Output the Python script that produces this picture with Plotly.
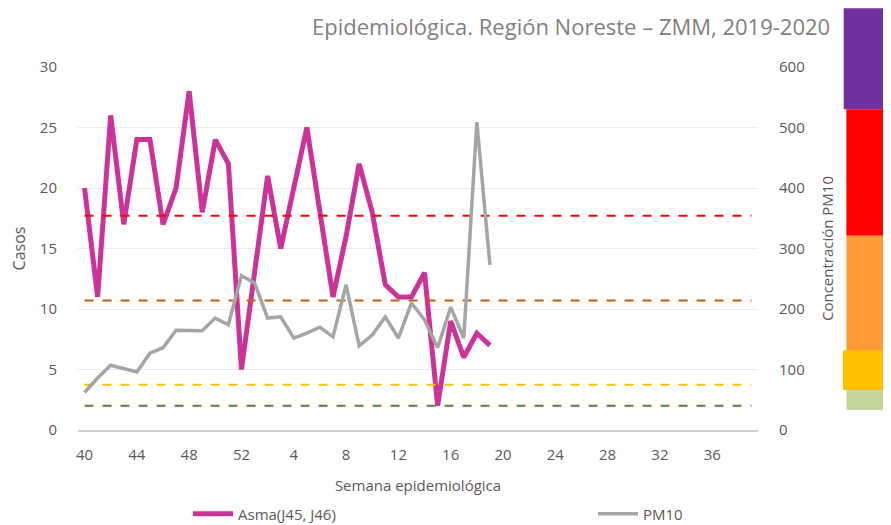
import plotly.graph_objects as go

# Weeks: 40-52 (2019), 1-39 (2020)
weeks = [str(w) for w in range(40, 53)] + [str(w) for w in range(1, 40)]
tick_labels = ["40", "44", "48", "52", "4", "8", "12", "16", "20", "24", "28", "32", "36"]

asma_weeks = [str(w) for w in range(40, 53)] + [str(w) for w in range(1, 20)]
asma = [20, 11, 26, 17, 24, 24, 17, 20, 28, 18, 24, 22, 5,
        13, 21, 15, 20, 25, 18, 11, 16, 22, 18, 12, 11, 11, 13, 2, 9, 6, 8, 7]
pm10 = [62, 86, 107, 102, 96, 127, 136, 165, 165, 164, 185, 174, 255,
        243, 185, 187, 152, 160, 170, 154, 240, 139, 157, 187, 152, 210, 182, 136, 203, 152, 509, 273]

# PM10 thresholds (µg/m3) drawn as dashed reference lines
thresholds = [354, 214, 75, 40]
threshold_colors = ["#FF0000", "#C55A11", "#FFC000", "#548235"]

# Side colour scale bands (µg/m3 limits)
band_low = [530, 321, 122, 66, 33]
band_high = [697, 530, 321, 132, 66]
band_colors = ["#7030A0", "#FF0000", "#FD9A35", "#FFC000", "#C4D79B"]
band_x0 = [1.126, 1.130, 1.130, 1.125, 1.130]

Y2MAX = 600
OFF = 8  # page body margin
W, H = 891 - OFF, 525 - OFF
L, T = 78 - OFF, 67 - OFF
PW, PH = 680, 363
R, B = W - L - PW, H - T - PH

fig = go.Figure()

for thr, col in zip(thresholds, threshold_colors):
    fig.add_trace(go.Scatter(x=[weeks[0], weeks[-1]], y=[thr, thr], yaxis="y2",
                             mode="lines", line=dict(color=col, width=2, dash="dash"),
                             showlegend=False, hoverinfo="skip"))

fig.add_trace(go.Scatter(x=asma_weeks, y=asma, name="Asma(J45, J46)", mode="lines",
                         line=dict(color="#CC3399", width=5), legend="legend"))
fig.add_trace(go.Scatter(x=asma_weeks, y=pm10, name="PM10", yaxis="y2", mode="lines",
                         line=dict(color="#A5A5A5", width=3.5), legend="legend2"))

shapes = []
for lo, hi, col, x0 in zip(band_low, band_high, band_colors, band_x0):
    shapes.append(dict(type="rect", xref="paper", yref="paper", x0=x0, x1=1.2,
                       y0=lo / Y2MAX, y1=hi / Y2MAX, fillcolor=col, line=dict(width=0),
                       layer="above"))

font = dict(family="Open Sans, sans-serif", size=15, color="#595959")
leg_common = dict(orientation="h", yanchor="middle", xanchor="left",
                  font=dict(size=15, color="#595959"), itemwidth=40,
                  bgcolor="rgba(0,0,0,0)")
leg_y = -(514 - OFF - T - PH) / PH

fig.update_layout(
    width=W, height=H,
    margin=dict(l=L, r=R, t=T, b=B, autoexpand=False),
    paper_bgcolor="white", plot_bgcolor="white",
    font=font,
    shapes=shapes,
    xaxis=dict(type="category", categoryorder="array", categoryarray=weeks,
               range=[-0.5, len(weeks) - 0.5], automargin=False,
               tickmode="array", tickvals=tick_labels, ticktext=tick_labels,
               showgrid=False, showline=True, linecolor="#D0D0D0", linewidth=2,
               ticks="", ticklabelstandoff=10, tickfont=dict(size=15, color="#595959"),
               title=dict(text="Semana epidemiológica", font=dict(size=15, color="#595959"), standoff=17)),
    yaxis=dict(range=[0, 30], dtick=5, showgrid=True, gridcolor="#EBEBEB", gridwidth=1,
               zeroline=False, ticks="", ticklabelstandoff=20, automargin=False,
               title=dict(text="Casos", font=dict(size=16, color="#595959"), standoff=10)),
    yaxis2=dict(range=[0, Y2MAX], dtick=100, overlaying="y", side="right", showgrid=False,
                zeroline=False, ticks="", ticklabelstandoff=20, automargin=False,
                title=dict(text="Concentración PM10", font=dict(size=15, color="#595959"), standoff=18)),
    legend=dict(x=(188 - OFF - L) / PW, y=leg_y, **leg_common),
    legend2=dict(x=(593 - OFF - L) / PW, y=leg_y, **leg_common),
    annotations=[dict(text="Epidemiológica. Región Noreste – ZMM, 2019-2020", xref="paper", yref="paper",
                      x=(832 - OFF - L) / PW, y=(PH + T - 1) / PH, xanchor="right", yanchor="top",
                      showarrow=False, font=dict(size=22, color="#808080"))],
)

fig.write_html("out.html")
